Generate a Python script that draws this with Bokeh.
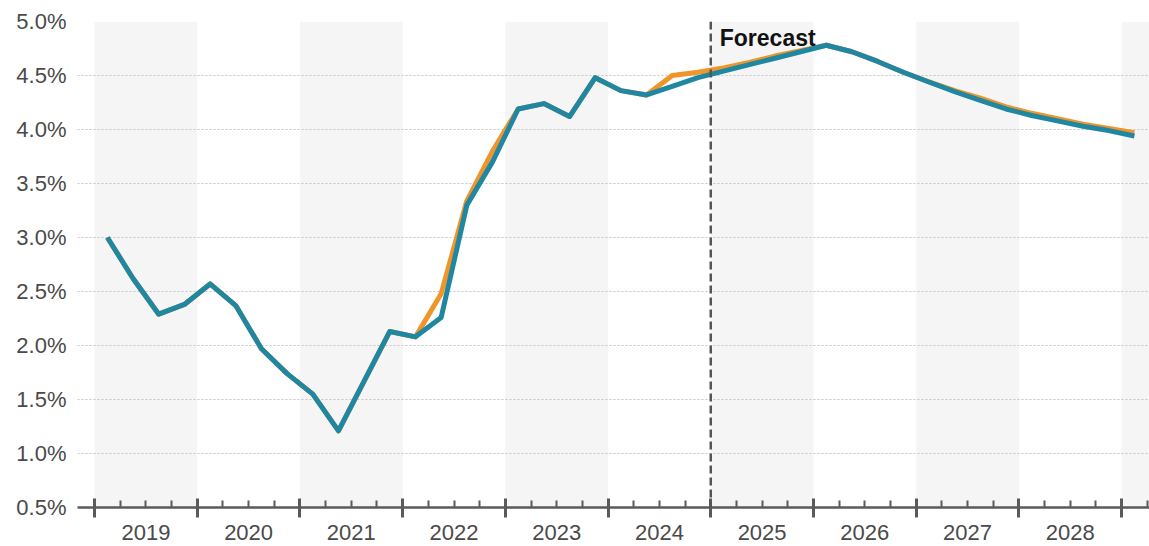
from bokeh.plotting import figure
from bokeh.models import (FixedTicker, LinearAxis, Span, Label, Range1d,
                          CustomJSTickFormatter, ColumnDataSource, CustomLabelingPolicy)
from bokeh.embed import file_html
from bokeh.resources import INLINE

# ---- data ----
periods = [f"{y}Q{q}" for y in range(2019, 2029) for q in range(1, 5)] + ["2029Q1"]

current = [3.00, 2.62, 2.29, 2.38, 2.57, 2.37, 1.97, 1.74, 1.55, 1.21,
           1.67, 2.13, 2.08, 2.26, 3.30, 3.70, 4.19, 4.24, 4.12, 4.48,
           4.36, 4.32, 4.40, 4.48, 4.54, 4.60, 4.66, 4.72, 4.78, 4.72,
           4.63, 4.53, 4.44, 4.35, 4.27, 4.19, 4.13, 4.08, 4.03, 3.99, 3.94]

previous = [3.00, 2.62, 2.29, 2.38, 2.57, 2.37, 1.97, 1.74, 1.55, 1.21,
            1.67, 2.13, 2.08, 2.48, 3.34, 3.80, 4.19, 4.24, 4.12, 4.48,
            4.36, 4.32, 4.50, 4.53, 4.57, 4.62, 4.68, 4.73, 4.78, 4.72,
            4.63, 4.53, 4.44, 4.36, 4.29, 4.21, 4.15, 4.10, 4.05, 4.01, 3.97]

year_ticks = list(range(2019, 2030))
shaded_years = [2019, 2021, 2023, 2025, 2027, 2029]
y_ticks = [0.5, 1.0, 1.5, 2.0, 2.5, 3.0, 3.5, 4.0, 4.5, 5.0]
forecast_start = 2025.0
forecast_text = "Forecast"

# ---- positions (quarter centres) ----
def period_x(p):
    y, q = p.split("Q")
    return int(y) + (int(q) - 0.5) / 4.0

xs = [period_x(p) for p in periods]
quarter_bounds = [y + k / 4.0 for y in range(2019, 2030) for k in range(4)]
label_pos = [y + 0.5 for y in range(2019, 2029)]

TEAL = "#1f87a2"
ORANGE = "#f0952a"
AXIS = "#5a5a5a"
LABEL = "#4a4a4a"
FONT = "Liberation Sans"

p = figure(width=1149, height=546, output_backend="svg", toolbar_location=None,
           x_range=Range1d(2018.834, 2029.272), y_range=Range1d(0.5, 5.0),
           x_axis_location=None, y_axis_location="left",
           min_border_left=77, min_border_right=0, min_border_top=21,
           min_border_bottom=39)
p.outline_line_color = None
p.background_fill_color = "white"
p.border_fill_color = "white"

# background year bands
p.quad(left=shaded_years, right=[y + 1 for y in shaded_years],
       bottom=0.5, top=5.0, fill_color="#f5f5f5", line_color=None, level="image")

# y axis
yax = p.yaxis[0]
yax.ticker = FixedTicker(ticks=y_ticks, minor_ticks=[])
yax.formatter = CustomJSTickFormatter(code="return tick.toFixed(1) + '%';")
yax.axis_line_color = None
yax.major_tick_line_color = None
yax.minor_tick_line_color = None
yax.major_label_standoff = 5
yax.major_label_text_font = FONT
yax.major_label_text_font_size = "22px"
yax.major_label_text_color = LABEL

p.ygrid.ticker = FixedTicker(ticks=y_ticks)
p.ygrid.grid_line_color = "#c4c4c4"
p.ygrid.grid_line_dash = "2 2"
p.ygrid.grid_line_width = 1.2
p.xgrid.visible = False

# x axis: line + ticks (no labels shown)
no_labels = CustomLabelingPolicy(code="""
for (const i of indices) { indices.unset(i) }
return indices
""")
ax_ticks = LinearAxis(ticker=FixedTicker(ticks=year_ticks, minor_ticks=quarter_bounds),
                      axis_line_color=AXIS, axis_line_width=2.5,
                      major_tick_line_color=AXIS, major_tick_line_width=3,
                      major_tick_in=9, major_tick_out=10,
                      minor_tick_line_color=AXIS, minor_tick_line_width=2,
                      minor_tick_in=7, minor_tick_out=0,
                      major_label_policy=no_labels,
                      major_label_text_font_size="1px", major_label_standoff=0)
p.add_layout(ax_ticks, "below")

# x axis: year labels at year centres
ax_labels = LinearAxis(ticker=FixedTicker(ticks=label_pos, minor_ticks=[]),
                       formatter=CustomJSTickFormatter(code="return Math.floor(tick).toString();"),
                       axis_line_color=None, major_tick_line_color=None,
                       minor_tick_line_color=None, major_tick_in=0, major_tick_out=0,
                       major_label_standoff=3,
                       major_label_text_font=FONT, major_label_text_font_size="22px",
                       major_label_text_color=LABEL)
p.add_layout(ax_labels, "below")

src = ColumnDataSource(dict(x=xs, current=current, previous=previous))
p.line("x", "previous", source=src, line_width=5, line_color=ORANGE, line_join="round")
p.line("x", "current", source=src, line_width=5, line_color=TEAL, line_join="round")

p.add_layout(Span(location=forecast_start, dimension="height", line_color="#555555",
                  line_width=2.5, line_dash="8 4"))
p.add_layout(Label(x=forecast_start, y=5.0, x_offset=9, y_offset=-3, text=forecast_text,
                   text_font=FONT, text_font_style="bold", text_font_size="23px",
                   text_baseline="top", text_color="#111111"))

open("out.html", "w").write(file_html(p, INLINE))
